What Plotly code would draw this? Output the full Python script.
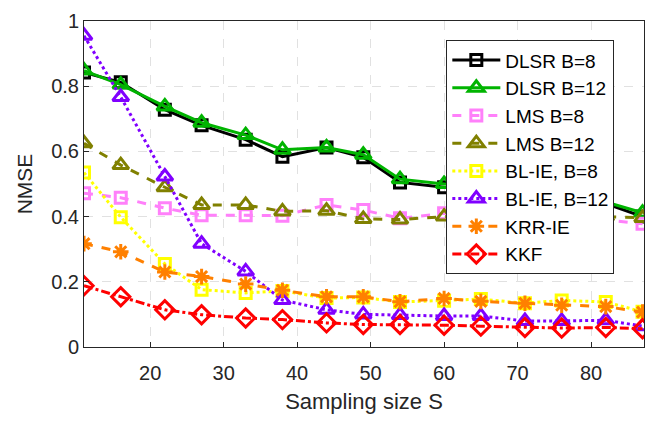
import plotly.graph_objects as go

S = [11, 16, 22, 27, 33, 38, 44, 49, 54, 60, 65, 71, 76, 82, 87]

dlsr8 = [0.842, 0.812, 0.728, 0.680, 0.636, 0.584, 0.612, 0.582, 0.505, 0.490, 0.485, 0.47, 0.455, 0.44, 0.400]
dlsr12 = [0.848, 0.805, 0.738, 0.688, 0.650, 0.605, 0.612, 0.590, 0.515, 0.500, 0.49, 0.475, 0.46, 0.445, 0.412]
lms8 = [0.472, 0.458, 0.426, 0.404, 0.404, 0.403, 0.436, 0.420, 0.395, 0.410, 0.40, 0.40, 0.395, 0.39, 0.378]
lms12 = [0.625, 0.558, 0.490, 0.436, 0.436, 0.416, 0.418, 0.393, 0.391, 0.400, 0.40, 0.40, 0.40, 0.40, 0.396]
blie8 = [0.535, 0.398, 0.255, 0.176, 0.166, 0.172, 0.150, 0.152, 0.138, 0.142, 0.147, 0.134, 0.143, 0.138, 0.108]
blie12 = [0.955, 0.767, 0.523, 0.317, 0.232, 0.144, 0.114, 0.100, 0.098, 0.095, 0.095, 0.080, 0.080, 0.082, 0.064]
krr = [0.317, 0.292, 0.230, 0.216, 0.193, 0.174, 0.154, 0.154, 0.139, 0.149, 0.140, 0.134, 0.128, 0.124, 0.107]
kkf = [0.188, 0.154, 0.114, 0.099, 0.089, 0.084, 0.074, 0.069, 0.069, 0.067, 0.064, 0.060, 0.058, 0.060, 0.056]

series = [
    ("DLSR B=8", dlsr8, "black", "solid", "square-open", 11),
    ("DLSR B=12", dlsr12, "rgb(0,180,0)", "solid", "triangle-up-open", 14),
    ("LMS B=8", lms8, "rgb(255,128,250)", "dash", "square-open", 11),
    ("LMS B=12", lms12, "rgb(128,128,0)", "dash", "triangle-up-open", 14),
    ("BL-IE, B=8", blie8, "rgb(255,255,0)", "dot", "square-open", 11),
    ("BL-IE, B=12", blie12, "rgb(128,0,255)", "dot", "triangle-up-open", 14),
    ("KRR-IE", krr, "rgb(255,128,0)", "dash", "asterisk-open", 13),
    ("KKF", kkf, "rgb(255,0,0)", "dashdot", "diamond-open", 14),
]

fig = go.Figure()
for name, y, c, dash, sym, sz in series:
    fig.add_trace(go.Scatter(
        x=S, y=y, name=name, mode="lines+markers",
        line=dict(color=c, width=3, dash=dash),
        marker=dict(symbol=sym, size=sz, color=c, line=dict(color=c, width=3)),
    ))

fig.update_layout(
    width=672, height=422,
    margin=dict(l=84, r=28, t=10, b=75),
    paper_bgcolor="white", plot_bgcolor="white",
    font=dict(family="Liberation Sans, Arial, sans-serif", size=20, color="rgb(38,38,38)"),
    showlegend=True,
    legend=dict(
        x=0.647, y=0.941, xanchor="left", yanchor="top",
        bgcolor="white", bordercolor="rgb(38,38,38)", borderwidth=1,
        font=dict(size=19, color="black"),
        tracegroupgap=0, itemwidth=48,
    ),
)
fig.update_xaxes(
    range=[11, 87.2], tickvals=[20, 30, 40, 50, 60, 70, 80],
    tickfont=dict(size=20), ticklabelstandoff=8,
    title=dict(text="Sampling size S", font=dict(size=22), standoff=10),
    showline=True, linecolor="rgb(38,38,38)", linewidth=1, mirror=True,
    ticks="inside", ticklen=5, tickcolor="rgb(38,38,38)",
    showgrid=True, gridcolor="rgb(225,225,225)", griddash="dash", gridwidth=1,
    zeroline=False,
)
fig.update_yaxes(
    range=[0, 1.0001], tickvals=[0, 0.2, 0.4, 0.6, 0.8, 1], ticktext=["0", "0.2", "0.4", "0.6", "0.8", "1"],
    tickfont=dict(size=20), ticklabeloverflow="allow",
    title=dict(text="NMSE", font=dict(size=21), standoff=12),
    showline=True, linecolor="rgb(38,38,38)", linewidth=1, mirror=True,
    ticks="inside", ticklen=5, tickcolor="rgb(38,38,38)",
    showgrid=True, gridcolor="rgb(225,225,225)", griddash="dash", gridwidth=1,
    zeroline=False,
)

fig.write_html("out.html")
